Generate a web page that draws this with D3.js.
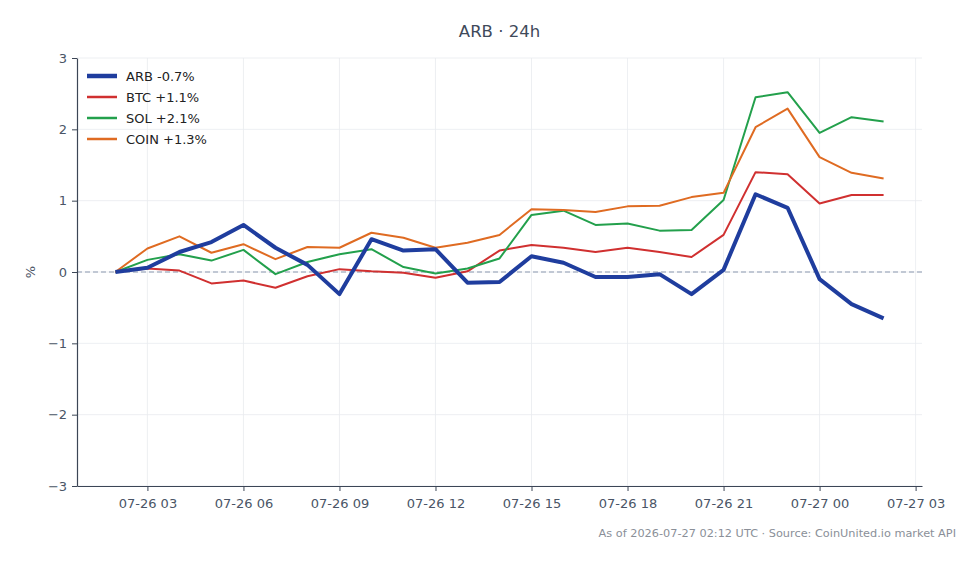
<!DOCTYPE html>
<html>
<head>
<meta charset="utf-8">
<script src="https://cdn.jsdelivr.net/npm/d3@7"></script>
<style>
  html, body { margin: 0; padding: 0; background: #fff; }
  svg { display: block; font-family: "DejaVu Sans", sans-serif; }
</style>
</head>
<body>
<svg id="chart" width="980" height="564"></svg>
<script>
// hourly points, 07-26 02:00 -> 07-27 02:00 (UTC)
const hours = d3.range(25).map((i) => new Date(Date.UTC(2026, 6, 26, 2 + i)));

const arb = [0, 0.06, 0.28, 0.42, 0.66, 0.34, 0.1, -0.31, 0.46, 0.3, 0.32, -0.15, -0.14,
  0.22, 0.13, -0.07, -0.07, -0.03, -0.31, 0.03, 1.09, 0.9, -0.1, -0.45, -0.65];
const btc = [0, 0.05, 0.02, -0.16, -0.12, -0.22, -0.06, 0.04, 0.01, -0.01, -0.08, 0.01, 0.3,
  0.38, 0.34, 0.28, 0.34, 0.28, 0.21, 0.52, 1.4, 1.37, 0.96, 1.08, 1.08];
const sol = [0, 0.17, 0.25, 0.16, 0.31, -0.03, 0.14, 0.25, 0.32, 0.07, -0.02, 0.05, 0.19,
  0.8, 0.86, 0.66, 0.68, 0.58, 0.59, 1.01, 2.45, 2.52, 1.95, 2.17, 2.11];
const coin = [0, 0.33, 0.5, 0.27, 0.39, 0.18, 0.35, 0.34, 0.55, 0.48, 0.34, 0.41, 0.52,
  0.88, 0.87, 0.84, 0.92, 0.93, 1.05, 1.11, 2.03, 2.29, 1.61, 1.39, 1.31];

const seriesNames = ["ARB", "BTC", "SOL", "COIN"];
const seriesValues = [arb, btc, sol, coin];
const seriesColors = ["#1f3d9e", "#d03030", "#23a04c", "#df6b22"];
const seriesWidths = [4, 2, 2, 2];
const yTicks = [-3, -2, -1, 0, 1, 2, 3];

const svg = d3.select("#chart");
const margin = { top: 58, right: 58, bottom: 78, left: 77 };
const width = 980 - margin.left - margin.right;
const height = 564 - margin.top - margin.bottom;

// matplotlib-ish 5% padding on time axis
const pad = 1.2 * 3600 * 1000;
const x = d3.scaleUtc()
  .domain([+hours[0] - pad, +hours[hours.length - 1] + pad])
  .range([0, width]);
const y = d3.scaleLinear().domain([-3, 3]).range([height, 0]);

const g = svg.append("g").attr("transform", `translate(${margin.left},${margin.top})`);

const xTicks = x.ticks(d3.utcHour.every(3));
const fmt = d3.utcFormat("%m-%d %H");

// grid
g.append("g")
  .selectAll("line.vg")
  .data(xTicks)
  .join("line")
  .attr("x1", (d) => x(d)).attr("x2", (d) => x(d))
  .attr("y1", 0).attr("y2", height)
  .attr("stroke", "#e8ebef").attr("stroke-width", 0.8);
g.append("g")
  .selectAll("line.hg")
  .data(yTicks)
  .join("line")
  .attr("x1", 0).attr("x2", width)
  .attr("y1", (d) => y(d)).attr("y2", (d) => y(d))
  .attr("stroke", "#e8ebef").attr("stroke-width", 0.8);

// zero line
g.append("line")
  .attr("x1", 0).attr("x2", width)
  .attr("y1", y(0)).attr("y2", y(0))
  .attr("stroke", "#8c9ab0").attr("stroke-width", 1.1)
  .attr("stroke-dasharray", "5,3");

// axes
const xAxis = g.append("g")
  .attr("transform", `translate(0,${height})`)
  .call(d3.axisBottom(x).tickValues(xTicks).tickFormat(fmt).tickSize(5).tickSizeOuter(0));
const yAxis = g.append("g")
  .call(d3.axisLeft(y).tickValues(yTicks).tickFormat((d) => d < 0 ? "\u2212" + Math.abs(d) : d)
    .tickSize(5).tickSizeOuter(0));
[xAxis, yAxis].forEach((a) => {
  a.select(".domain").attr("stroke", "#3c4656").attr("stroke-width", 1.2);
  a.selectAll(".tick line").attr("stroke", "#3c4656");
  a.selectAll(".tick text").attr("fill", "#4a5566")
    .attr("font-family", "DejaVu Sans").attr("font-size", 13);
});
xAxis.selectAll(".tick text").attr("dy", "1.05em");
yAxis.selectAll(".tick text").attr("dx", "-0.15em");

// lines (ARB drawn on top)
const line = (vals) => d3.line()
  .x((d, i) => x(hours[i]))
  .y((d) => y(d))(vals);
const order = [1, 2, 3, 0];
order.forEach((k) => {
  g.append("path")
    .attr("d", line(seriesValues[k]))
    .attr("fill", "none")
    .attr("stroke", seriesColors[k])
    .attr("stroke-width", seriesWidths[k])
    .attr("stroke-linejoin", "round");
});

// legend
const legend = g.append("g").attr("transform", "translate(10,18)");
seriesNames.forEach((name, i) => {
  const last = seriesValues[i][seriesValues[i].length - 1];
  const label = `${name} ${last >= 0 ? "+" : "-"}${Math.abs(last).toFixed(1)}%`;
  const row = legend.append("g").attr("transform", `translate(0,${i * 21})`);
  row.append("line")
    .attr("x1", 0).attr("x2", 30)
    .attr("stroke", seriesColors[i]).attr("stroke-width", seriesWidths[i] + 0.5);
  row.append("text")
    .attr("x", 39).attr("dy", "0.35em")
    .attr("font-size", 13).attr("fill", "#222")
    .text(label);
});

// title
svg.append("text")
  .attr("x", margin.left + width / 2).attr("y", 37)
  .attr("text-anchor", "middle")
  .attr("font-size", 16.5).attr("fill", "#3f4a5a")
  .text("ARB \u00b7 24h");

// y label
svg.append("text")
  .attr("transform", `translate(35,${margin.top + y(0)}) rotate(-90)`)
  .attr("text-anchor", "middle")
  .attr("font-size", 13).attr("fill", "#4a5566")
  .text("%");

// footer
svg.append("text")
  .attr("x", 956).attr("y", 537)
  .attr("text-anchor", "end")
  .attr("font-size", 11.3).attr("fill", "#8a8f98")
  .text("As of 2026-07-27 02:12 UTC \u00b7 Source: CoinUnited.io market API");
</script>
</body>
</html>
